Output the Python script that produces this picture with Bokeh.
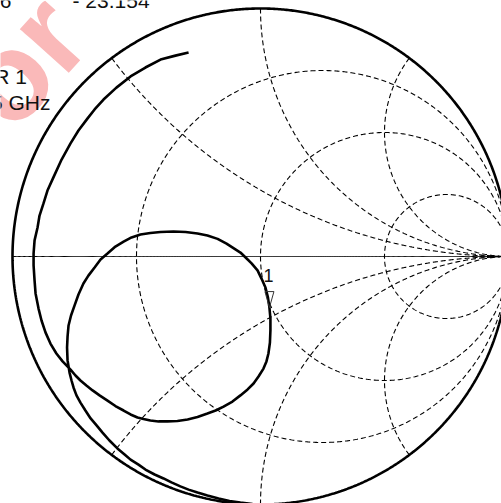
import numpy as np
from bokeh.plotting import figure
from bokeh.models import Range1d
from bokeh.embed import file_html
from bokeh.resources import INLINE
from bokeh.core.properties import value

# ---------------- data (reflection coefficient) ----------------
r_circles = [1 / 3, 1.0, 3.0]          # constant-resistance grid circles
x_arcs = [0.5, 1.0, 2.0]               # constant-reactance grid arcs (+/-)

trace_re = [-0.290, -0.343, -0.403, -0.464, -0.524, -0.581, -0.633, -0.669, -0.698, -0.734,
            -0.766, -0.802, -0.835, -0.859, -0.875, -0.891, -0.899, -0.911, -0.915, -0.915,
            -0.911, -0.907, -0.895, -0.883, -0.867, -0.847, -0.823, -0.798, -0.766, -0.746,
            -0.726, -0.702, -0.677, -0.649, -0.617, -0.585, -0.552, -0.524, -0.496, -0.472,
            -0.444, -0.411, -0.375, -0.335, -0.294, -0.254, -0.214, -0.181, -0.149, -0.113,
            -0.081, -0.052, -0.028, -0.008, 0.012, 0.024, 0.032, 0.038, 0.040, 0.040,
            0.036, 0.030, 0.020, 0.004, -0.012, -0.036, -0.060, -0.081, -0.109, -0.137,
            -0.173, -0.214, -0.254, -0.302, -0.351, -0.403, -0.444, -0.484, -0.520, -0.552,
            -0.585, -0.617, -0.645, -0.669, -0.694, -0.714, -0.734, -0.750, -0.764, -0.774,
            -0.778, -0.780, -0.778, -0.770, -0.762, -0.754, -0.742, -0.726, -0.706, -0.685,
            -0.661, -0.637, -0.609, -0.577, -0.548, -0.524, -0.492, -0.464, -0.427, -0.391,
            -0.359, -0.323, -0.290, -0.254, -0.214, -0.169, -0.125, -0.081, -0.032]
trace_im = [0.823, 0.810, 0.794, 0.762, 0.726, 0.681, 0.633, 0.593, 0.556, 0.508,
            0.456, 0.391, 0.319, 0.266, 0.214, 0.165, 0.117, 0.065, 0.012, -0.036,
            -0.097, -0.149, -0.210, -0.258, -0.306, -0.351, -0.391, -0.423, -0.456, -0.480,
            -0.500, -0.520, -0.540, -0.560, -0.581, -0.603, -0.621, -0.637, -0.649, -0.655,
            -0.661, -0.665, -0.665, -0.663, -0.657, -0.647, -0.633, -0.621, -0.605, -0.585,
            -0.560, -0.536, -0.512, -0.484, -0.452, -0.423, -0.391, -0.347, -0.298, -0.250,
            -0.206, -0.165, -0.125, -0.089, -0.056, -0.028, -0.004, 0.016, 0.034, 0.052,
            0.071, 0.085, 0.093, 0.099, 0.101, 0.099, 0.095, 0.089, 0.077, 0.060,
            0.040, 0.012, -0.012, -0.044, -0.077, -0.109, -0.153, -0.198, -0.238, -0.278,
            -0.323, -0.367, -0.419, -0.468, -0.500, -0.528, -0.560, -0.589, -0.621, -0.653,
            -0.681, -0.710, -0.742, -0.774, -0.798, -0.819, -0.839, -0.859, -0.879, -0.895,
            -0.911, -0.927, -0.940, -0.952, -0.964, -0.976, -0.986, -0.992, -0.998]

marker_re = 0.036
marker_im = -0.206
marker_label = "1"

readout_text = ["36", "- 23.154", "R 1", "5 GHz"]
readout_x = [-1.004, -0.758, -0.9415, -0.8468]
readout_y = [1.032, 1.032, 0.726, 0.621]
readout_align = ["right", "left", "right", "right"]

watermark_text = "or"

# ---------------- geometry helpers ----------------
def gamma(z):
    return (z - 1) / (z + 1)

PX = 1 / 248.0  # one screen pixel in reflection-coefficient units

t_full = np.linspace(-np.pi / 2 + 1e-3, np.pi / 2 - 1e-3, 900)
t_half = np.linspace(0, np.pi / 2 - 1e-3, 600)

grid_xs, grid_ys = [], []
for r in r_circles:
    g = gamma(r + 1j * np.tan(t_full))
    grid_xs.append(g.real)
    grid_ys.append(g.imag)
for xv in x_arcs:
    for s in (1, -1):
        g = gamma(np.tan(t_half) + 1j * s * xv)
        grid_xs.append(g.real)
        grid_ys.append(g.imag)

axis_g = gamma(np.tan(t_half) + 0j)
phi = np.linspace(0, 2 * np.pi, 1000)
outer_x = np.cos(phi)
outer_y = np.sin(phi)

# ---------------- figure ----------------
p = figure(width=501, height=503,
           x_range=Range1d(-260 * PX, 241 * PX),
           y_range=Range1d(-247 * PX, 256 * PX),
           x_axis_location=None, y_axis_location=None,
           output_backend="svg", toolbar_location=None, min_border=0)
p.xgrid.visible = False
p.ygrid.visible = False
p.outline_line_color = None
p.background_fill_color = "white"
p.border_fill_color = "white"

# watermark
p.text(x=[-0.962], y=[0.790], text=[watermark_text], angle=0.838,
       text_font=value("Liberation Sans"), text_font_style="bold",
       text_font_size="124px", text_color="#fab9b9",
       text_align="center", text_baseline="alphabetic")

# grid
p.multi_line(grid_xs, grid_ys, line_color="black", line_width=1.1, line_dash="5 3")
p.line(axis_g.real, axis_g.imag, line_color="black", line_width=1)
p.line(outer_x, outer_y, line_color="black", line_width=2.6)

# readout texts
for tx, xx, yy, al in zip(readout_text, readout_x, readout_y, readout_align):
    p.text(x=[xx], y=[yy], text=[tx],
           text_font=value("Liberation Sans"), text_font_size="21px",
           text_color="#111111", text_align=al, text_baseline="alphabetic")

# trace
p.line(trace_re, trace_im, line_color="black", line_width=2.6)

# marker
tri_x = [marker_re, marker_re - 4.5 * PX, marker_re + 4.5 * PX]
tri_y = [marker_im, marker_im + 16 * PX, marker_im + 16 * PX]
p.patch(tri_x, tri_y, fill_color=None, line_color="#333333", line_width=1)
p.text(x=[marker_re], y=[marker_im], text=[marker_label], x_offset=-1, y_offset=-32,
       text_font=value("Liberation Sans"), text_font_size="18px",
       text_color="#111111", text_align="center", text_baseline="alphabetic")

open("out.html", "w").write(file_html(p, INLINE))
